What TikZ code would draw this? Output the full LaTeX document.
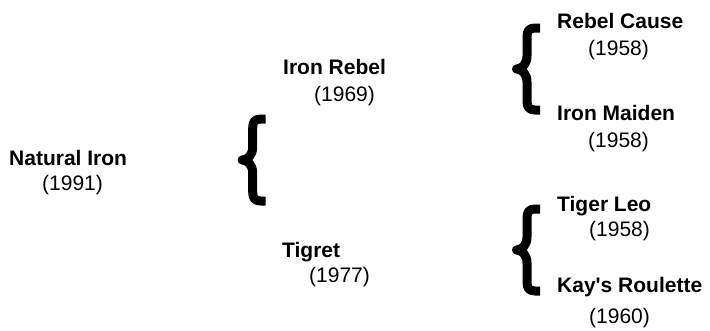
\documentclass[tikz,border=0pt]{standalone}
\usepackage{fontspec}
\setmainfont{Liberation Sans}
\begin{document}
\begin{tikzpicture}[x=1pt,y=-1pt,
  pname/.style={anchor=base west,inner sep=0pt,font=\fontsize{21}{25}\selectfont\bfseries},
  pyear/.style={anchor=base west,inner sep=0pt,font=\fontsize{21}{25}\selectfont},
  curlybrace/.pic={
    \draw[line width=9pt,line join=round,line cap=butt]
      (28,-41) -- (23,-41) .. controls (17,-41) and (15,-38) .. (15,-32)
      -- (15,-13) .. controls (15,-5) and (10,0) .. (4.5,0)
      .. controls (10,0) and (15,5) .. (15,13)
      -- (15,32) .. controls (15,38) and (17,41) .. (23,41) -- (28,41);
  }]
\useasboundingbox (0,0) rectangle (710,330);
% people
\node[pname] (ni)  at (9,165)   {Natural Iron};
\node[pyear] (niy) at (42,190)  {(1991)};
\node[pname] (ir)  at (283,74)  {Iron Rebel};
\node[pyear] (iry) at (314,101) {(1969)};
\node[pname] (tg)  at (282,257) {Tigret};
\node[pyear] (tgy) at (309,282) {(1977)};
\node[pname] (rc)  at (557,28)  {Rebel Cause};
\node[pyear] (rcy) at (588,55)  {(1958)};
\node[pname] (im)  at (557,120) {Iron Maiden};
\node[pyear] (imy) at (588,147) {(1958)};
\node[pname] (tl)  at (557,211) {Tiger Leo};
\node[pyear] (tly) at (589,236) {(1958)};
\node[pname] (kr)  at (557,292) {Kay\textquotesingle s Roulette};
\node[pyear] (kry) at (589,323) {(1960)};
% braces
\coordinate (b0) at (237.7,160);
\coordinate (b1) at (512,69);
\coordinate (b2) at (512,250);
\pic at (b0) {curlybrace};
\pic at (b1) {curlybrace};
\pic at (b2) {curlybrace};
\end{tikzpicture}
\end{document}
